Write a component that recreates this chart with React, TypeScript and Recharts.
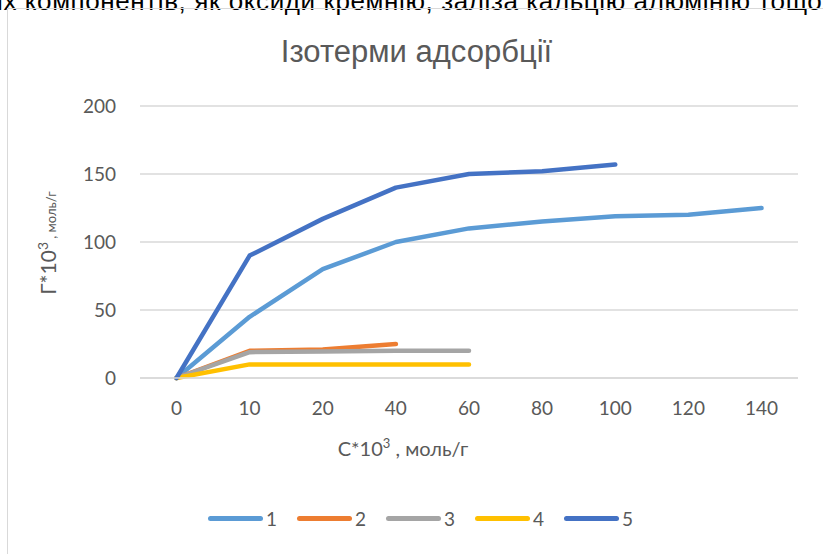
import React from "react";
import { CartesianGrid, Line, LineChart, XAxis, YAxis } from "recharts";

const categories = ["0", "10", "20", "40", "60", "80", "100", "120", "140"];
const series1 = [0, 45, 80, 100, 110, 115, 119, 120, 125];
const series2 = [0, 20, 21, 25, null, null, null, null, null];
const series3 = [0, 19, 19.5, 20, 20, null, null, null, null];
const series4 = [0, 10, 10, 10, 10, null, null, null, null];
const series5 = [0, 90, 117, 140, 150, 152, 157, null, null];
const yTicks = [0, 50, 100, 150, 200];

const SERIES = [
  { key: "s1", name: "1", color: "#5B9BD5", values: series1 },
  { key: "s2", name: "2", color: "#ED7D31", values: series2 },
  { key: "s3", name: "3", color: "#A5A5A5", values: series3 },
  { key: "s4", name: "4", color: "#FFC000", values: series4 },
  { key: "s5", name: "5", color: "#4472C4", values: series5 },
];

const data = categories.map((c, i) => {
  const row: Record<string, string | number | null> = { c };
  for (const s of SERIES) row[s.key] = s.values[i];
  return row;
});

const FONT = "Lato, 'Noto Sans', sans-serif";
const TEXT = "#595959";

export default function App() {
  return (
    <div
      style={{
        position: "fixed",
        inset: 0,
        width: 823,
        height: 554,
        background: "#fff",
        overflow: "hidden",
        fontFamily: FONT,
      }}
    >
      {/* tail of the document line above the chart, clipped by the page edge */}
      <div
        style={{
          position: "absolute",
          top: -12,
          left: -3,
          fontSize: 26,
          lineHeight: "26px",
          letterSpacing: 0.6,
          whiteSpace: "nowrap",
          color: "#000",
          fontFamily: "'Liberation Sans', Arial, sans-serif",
        }}
      >
        іх компонентів, як оксиди кремнію, заліза кальцію алюмінію тощо
      </div>
      <div
        style={{
          position: "absolute",
          left: 7,
          top: 8,
          width: 830,
          height: 560,
          border: "1px solid #D9D9D9",
        }}
      />
      <div
        style={{
          position: "absolute",
          left: 0,
          top: 34,
          width: 823,
          textAlign: "center",
          fontSize: 31,
          color: TEXT,
          fontFamily: "'Liberation Sans', Arial, sans-serif",
          paddingLeft: 5,
        }}
      >
        Ізотерми адсорбції
      </div>
      <div style={{ position: "absolute", left: 0, top: 0 }}>
        <LineChart
          width={823}
          height={554}
          data={data}
          margin={{ top: 106, right: 25, left: 80, bottom: 146 }}
        >
          <CartesianGrid vertical={false} stroke="#D9D9D9" strokeWidth={1.3} />
          <XAxis
            dataKey="c"
            axisLine={{ stroke: "#D9D9D9", strokeWidth: 1.3 }}
            tickLine={false}
            tickMargin={18}
            height={30}
            interval={0}
            padding={{ left: 36.5, right: 36.5 }}
            tick={{ fill: TEXT, fontSize: 19, fontFamily: FONT }}
          />
          <YAxis
            domain={[0, 200]}
            ticks={yTicks}
            axisLine={false}
            tickLine={false}
            tickMargin={18}
            width={60}
            tick={{ fill: TEXT, fontSize: 19, fontFamily: FONT }}
          />
          {SERIES.map((s) => (
            <Line
              key={s.key}
              dataKey={s.key}
              name={s.name}
              stroke={s.color}
              strokeWidth={4.5}
              strokeLinecap="round"
              strokeLinejoin="round"
              dot={false}
              isAnimationActive={false}
            />
          ))}
          <text
            transform="translate(56,243) rotate(-90)"
            textAnchor="middle"
            fill={TEXT}
            fontFamily={FONT}
          >
            <tspan fontSize={21}>Г*10</tspan>
            <tspan fontSize={14} dy={-8}>3</tspan>
            <tspan fontSize={13} dy={8}> , моль/г</tspan>
          </text>
          <text x={403} y={456} textAnchor="middle" fill={TEXT} fontFamily={FONT}>
            <tspan fontSize={20}>С*10</tspan>
            <tspan fontSize={13} dy={-8}>3</tspan>
            <tspan fontSize={20} dy={8}> , моль/г</tspan>
          </text>
        </LineChart>
      </div>
      <div
        style={{
          position: "absolute",
          top: 507,
          left: 208,
          display: "flex",
          alignItems: "center",
        }}
      >
        {SERIES.map((s) => (
          <div
            key={s.key}
            style={{ display: "flex", alignItems: "center", width: 89 }}
          >
            <span
              style={{
                display: "inline-block",
                width: 55,
                height: 5,
                borderRadius: 3,
                background: s.color,
              }}
            />
            <span style={{ fontSize: 19, color: TEXT, marginLeft: 3 }}>
              {s.name}
            </span>
          </div>
        ))}
      </div>
    </div>
  );
}
